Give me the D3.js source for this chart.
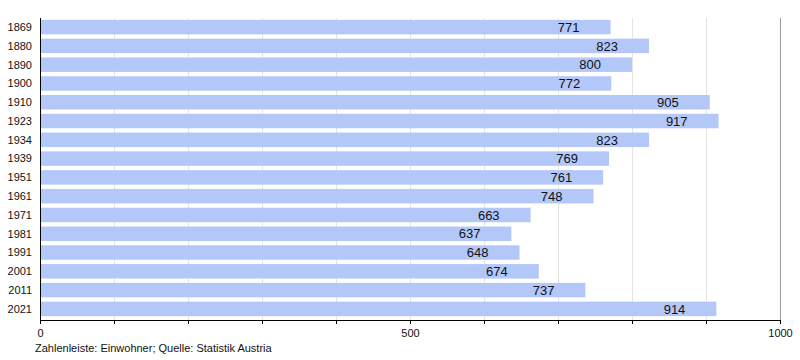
<!DOCTYPE html>
<html><head><meta charset="utf-8">
<script src="https://cdn.jsdelivr.net/npm/d3@7"></script>
<style>body{margin:0;background:#fff}svg{display:block;font-family:"Liberation Sans",Arial,sans-serif}</style>
</head><body><svg id="c" width="800" height="360"></svg>
<script>
const years = ["1869","1880","1890","1900","1910","1923","1934","1939","1951","1961","1971","1981","1991","2001","2011","2021"];
const population = [771,823,800,772,905,917,823,769,761,748,663,637,648,674,737,914];
const tickValues = [0,100,200,300,400,500,600,700,800,900,1000];
const tickLabels = [0,500,1000];
const footnote = "Zahlenleiste: Einwohner; Quelle: Statistik Austria";

const svg = d3.select("#c");
const x = d3.scaleLinear().domain([0,1000]).range([40,780]);
const y = d3.scaleBand().domain(years).range([18,318]).paddingInner(0.23).paddingOuter(0.1);

// gridlines
svg.append("g").selectAll("line").data(tickValues.filter(v=>v>0)).join("line")
  .attr("x1",d=>x(d)+0.5).attr("x2",d=>x(d)+0.5).attr("y1",18).attr("y2",320)
  .attr("stroke",d=>d===1000?"#999":"#e4e4e4").attr("stroke-width",1);

// bars
svg.append("g").selectAll("rect").data(years).join("rect")
  .attr("x",x(0)).attr("y",d=>y(d)).attr("height",y.bandwidth())
  .attr("width",(d,i)=>x(population[i])-x(0))
  .attr("fill","#b3c7f9");

// value labels
svg.append("g").selectAll("text").data(years).join("text")
  .attr("x",(d,i)=>x(population[i])-31).attr("y",d=>y(d)+y.bandwidth()/2)
  .attr("dy","0.36em").attr("text-anchor","end")
  .attr("font-size",13).attr("fill","#111")
  .text((d,i)=>population[i]);

// y labels
svg.append("g").selectAll("text").data(years).join("text")
  .attr("x",32).attr("y",d=>y(d)+y.bandwidth()/2).attr("dy","0.35em")
  .attr("text-anchor","end").attr("font-size",11).attr("fill","#111").text(d=>d);

// axes lines
svg.append("line").attr("x1",40.5).attr("x2",40.5).attr("y1",18).attr("y2",320.5).attr("stroke","#000");
const ax = d3.axisBottom(x).tickValues(tickValues).tickSize(4).tickFormat(d=>tickLabels.includes(d)?d:"");
const g = svg.append("g").attr("transform","translate(0,320)").call(ax);
g.select(".domain").attr("stroke","#000").attr("d","M40,0.5H780.5");
g.selectAll(".tick line").attr("stroke","#000");
g.selectAll(".tick text").attr("font-size",11).attr("fill","#111").attr("y",9)
  .attr("font-family","Liberation Sans, Arial, sans-serif");

svg.append("text").attr("x",35).attr("y",352).attr("font-size",11).attr("fill","#111").text(footnote);
</script></body></html>
